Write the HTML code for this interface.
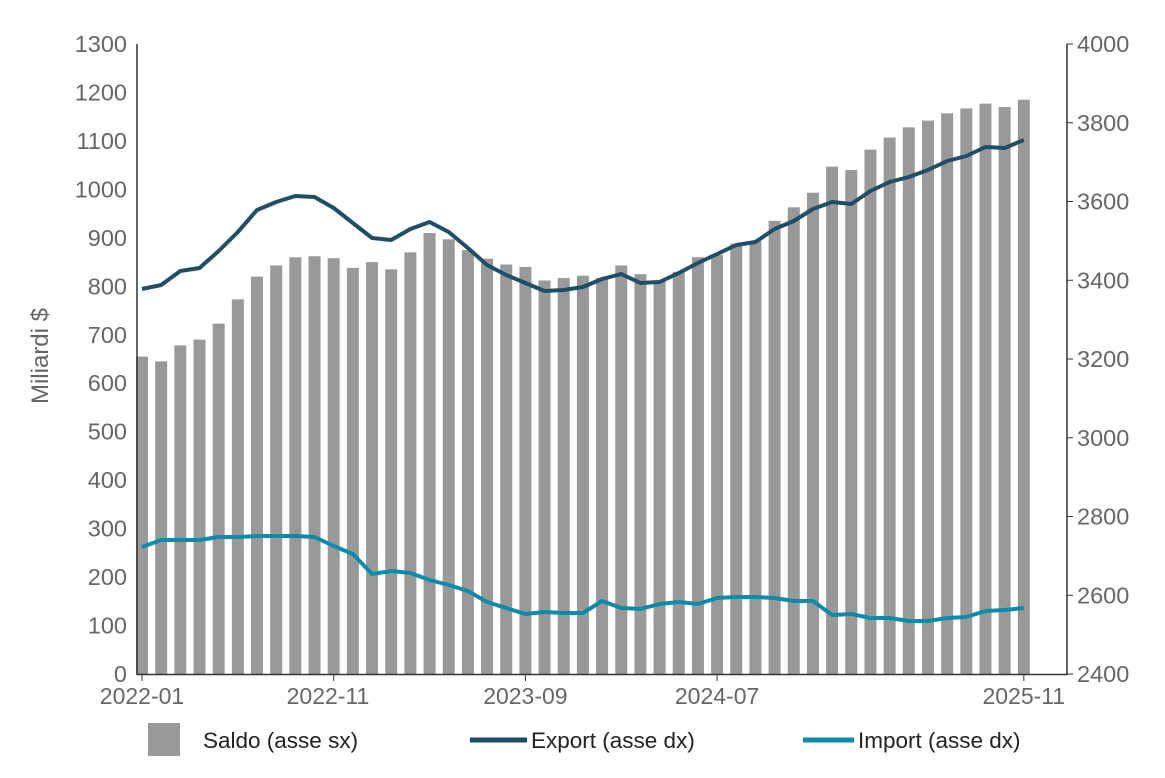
<!DOCTYPE html>
<html><head><meta charset="utf-8"><style>
html,body{margin:0;padding:0;background:#fff;}
svg text{font-family:"Liberation Sans",sans-serif;}
</style></head><body>
<svg id="c" width="1165" height="773" xmlns="http://www.w3.org/2000/svg"></svg>
<script>
const s=document.getElementById('c');let h='';
const bars=[655,645,678,690,723,773,820,843,860,862,858,838,850,835,870,910,897,875,857,845,840,812,817,822,817,843,825,810,830,860,865,888,893,935,963,993,1047,1040,1082,1107,1128,1142,1157,1167,1177,1170,1185];
const ex=[289,285,271,268,251,232,210,202,196,197,208,223,238,240,229,222,232,248,265,275,283,291,290,287,279,274,283,282,273,263,254,245,242,229,221,209,202,204,191,182,177,170,161,156,147,148,140];
const im=[547,540,540,540,537,537,536,536,536,537,546,554,574,571,573,580,585,591,602,608,614,612,613,613,601,608,609,604,602,604,598,597,597,598,601,601,615,614,618,618,621,621,618,617,611,610,608];
const X=i=>142+i*19.17;
bars.forEach((v,i)=>{const y=674-v*0.48462;h+=`<rect x="${X(i)-6}" y="${y}" width="12" height="${674-y}" fill="#999"/>`;});
h+=`<line x1="137" y1="44" x2="137" y2="675" stroke="#333" stroke-width="1.5"/>`;
h+=`<line x1="1067" y1="44" x2="1067" y2="675" stroke="#333" stroke-width="1.5"/>`;
h+=`<line x1="137" y1="674.5" x2="1067" y2="674.5" stroke="#333" stroke-width="1.5"/>`;
for(let v=0;v<=1300;v+=100){const y=674-v*0.48462;h+=`<text x="127" y="${y+8}" text-anchor="end" font-size="23.5" fill="#666">${v}</text>`;}
for(let v=2400;v<=4000;v+=200){const y=674-(v-2400)*0.39375;h+=`<line x1="1067" y1="${y}" x2="1073" y2="${y}" stroke="#333"/><text x="1077" y="${y+8}" font-size="23.5" fill="#666">${v}</text>`;}
[[0,'2022-01'],[10,'2022-11'],[20,'2023-09'],[30,'2024-07'],[46,'2025-11']].forEach(([i,t])=>{h+=`<line x1="${X(i)}" y1="675" x2="${X(i)}" y2="681" stroke="#333"/><text x="${i==10?328:X(i)}" y="704" text-anchor="middle" font-size="23" fill="#666">${t}</text>`;});
h+=`<text transform="translate(48,356) rotate(-90)" text-anchor="middle" font-size="24" fill="#666">Miliardi $</text>`;
const pl=(a,c)=>`<polyline fill="none" stroke="${c}" stroke-width="4" stroke-linejoin="round" points="${a.map((y,i)=>X(i)+','+y).join(' ')}"/>`;
h+=pl(ex,'#1f4e66')+pl(im,'#0e8ba8');
h+=`<rect x="148" y="723" width="32" height="33" fill="#999"/><text x="203" y="748" font-size="22.5" fill="#222">Saldo (asse sx)</text>`;
h+=`<line x1="470" y1="740" x2="527" y2="740" stroke="#1f4e66" stroke-width="5"/><text x="531" y="748" font-size="22.5" fill="#222">Export (asse dx)</text>`;
h+=`<line x1="803" y1="740" x2="854" y2="740" stroke="#0e8ba8" stroke-width="5"/><text x="858" y="748" font-size="22.5" fill="#222">Import (asse dx)</text>`;
s.innerHTML=h;
</script>
</body></html>
